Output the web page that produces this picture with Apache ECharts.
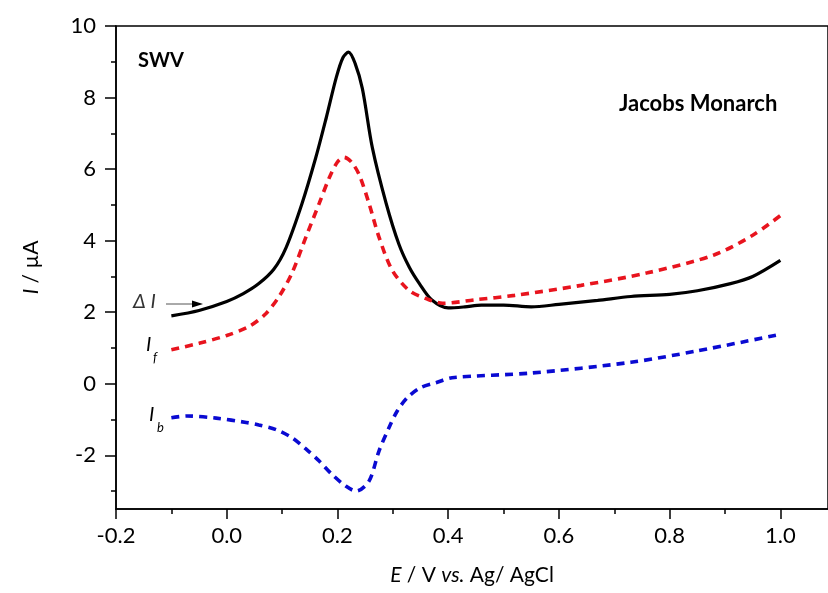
<!DOCTYPE html>
<html>
<head>
<meta charset="utf-8">
<script src="https://cdn.jsdelivr.net/npm/echarts@6/dist/echarts.min.js"></script>
<style>
html,body{margin:0;padding:0;background:#fff;}
#chart{width:828px;height:593px;}
</style>
</head>
<body>
<div id="chart"></div>
<script>
// ---- data (E / V, I / µA) ----
const deltaE = [-0.10,-0.05,0.00,0.03,0.058,0.085,0.107,0.136,0.161,0.18,0.198,0.21,0.22,0.232,0.245,0.263,0.288,0.311,0.33,0.348,0.37,0.40,0.43,0.46,0.50,0.55,0.60,0.67,0.73,0.80,0.85,0.91,0.95,1.00];
const deltaI = [1.90,2.05,2.30,2.52,2.80,3.20,3.80,5.04,6.33,7.45,8.57,9.12,9.27,8.95,8.25,6.60,5.04,3.90,3.25,2.80,2.35,2.12,2.15,2.20,2.20,2.15,2.22,2.33,2.44,2.50,2.60,2.80,3.00,3.45];

const fwdE = [-0.10,-0.05,0.00,0.04,0.07,0.095,0.118,0.143,0.167,0.185,0.20,0.212,0.225,0.239,0.257,0.275,0.299,0.33,0.36,0.39,0.45,0.52,0.64,0.76,0.88,0.95,1.00];
const fwdI = [0.95,1.13,1.35,1.60,1.95,2.45,3.10,4.10,5.04,5.75,6.20,6.33,6.20,5.85,5.04,4.10,3.17,2.60,2.38,2.25,2.35,2.47,2.75,3.10,3.60,4.15,4.70];

const bwdE = [-0.10,-0.072,-0.019,0.035,0.058,0.089,0.118,0.143,0.167,0.19,0.215,0.234,0.257,0.275,0.293,0.308,0.326,0.35,0.378,0.407,0.55,0.73,0.85,1.00];
const bwdI = [-0.95,-0.90,-0.96,-1.08,-1.15,-1.28,-1.51,-1.82,-2.16,-2.53,-2.86,-3.00,-2.72,-1.88,-1.23,-0.76,-0.39,-0.11,0.03,0.17,0.30,0.60,0.92,1.38];

const xMajor = [-0.2,0.0,0.2,0.4,0.6,0.8,1.0];
const xMinor = [-0.1,0.1,0.3,0.5,0.7,0.9];
const yMajor = [-2,0,2,4,6,8,10];
const yMinor = [-3,-1,1,3,5,7,9];

const zip = (a,b) => a.map((v,i)=>[v,b[i]]);
const FONT = 'Lato, "Open Sans", sans-serif';

const chart = echarts.init(document.getElementById('chart'), null, {renderer:'canvas'});
const axisLineStyle = {color:'#000', width:1.5};

chart.setOption({
  backgroundColor:'#fff',
  animation:false,
  grid:{left:116, top:26, width:712, height:483, show:true, borderColor:'#000', borderWidth:1.5, backgroundColor:'transparent'},
  xAxis:[{
    type:'value', min:-0.2, max:1.086,
    axisLine:{show:true, onZero:false, lineStyle:axisLineStyle},
    axisTick:{show:true, length:10, lineStyle:axisLineStyle, customValues:xMajor},
    axisLabel:{fontFamily:FONT, fontSize:22, color:'#000', margin:16, customValues:xMajor,
      formatter:v=>v.toFixed(1)},
    splitLine:{show:false},
    name:'{i|E} / V {i|vs.} Ag/ AgCl', nameLocation:'middle', nameGap:56,
    nameTextStyle:{fontFamily:FONT, fontSize:21, color:'#000', rich:{i:{fontFamily:FONT, fontSize:21, fontStyle:'italic', color:'#000'}}}
  },{
    type:'value', min:-0.2, max:1.086, position:'bottom',
    axisLine:{show:false, onZero:false},
    axisTick:{show:true, length:5, lineStyle:axisLineStyle, customValues:xMinor},
    axisLabel:{show:false}, splitLine:{show:false}
  }],
  yAxis:[{
    type:'value', min:-3.5, max:10,
    axisLine:{show:true, onZero:false, lineStyle:axisLineStyle},
    axisTick:{show:true, length:11, lineStyle:axisLineStyle, customValues:yMajor},
    axisLabel:{fontFamily:FONT, fontSize:22, color:'#000', margin:20, customValues:yMajor},
    splitLine:{show:false},
    name:'{i|I} / µA', nameLocation:'middle', nameGap:74,
    nameTextStyle:{fontFamily:FONT, fontSize:21, color:'#000', rich:{i:{fontFamily:FONT, fontSize:21, fontStyle:'italic', color:'#000'}}}
  },{
    type:'value', min:-3.5, max:10, position:'left',
    axisLine:{show:false, onZero:false},
    axisTick:{show:true, length:5, lineStyle:axisLineStyle, customValues:yMinor},
    axisLabel:{show:false}, splitLine:{show:false}
  }],
  series:[
    {name:'ΔI', type:'line', data:zip(deltaE,deltaI), smooth:0.3, showSymbol:false,
      lineStyle:{color:'#000', width:3.2}},
    {name:'If', type:'line', data:zip(fwdE,fwdI), smooth:0.3, showSymbol:false,
      lineStyle:{color:'#e8141e', width:3.6, type:[8,6]}},
    {name:'Ib', type:'line', data:zip(bwdE,bwdI), smooth:0.3, showSymbol:false,
      lineStyle:{color:'#0a0ad2', width:3.6, type:[8,6]}}
  ],
  graphic:[
    {type:'text', left:138, top:51, style:{text:'SWV', fontFamily:FONT, fontSize:20, fontWeight:'bold', fill:'#000'}},
    {type:'text', left:619, top:93, style:{text:'Jacobs Monarch', fontFamily:FONT, fontSize:22, fontWeight:'bold', fill:'#000'}},
    {type:'text', left:133, top:292, style:{text:'Δ I', fontFamily:FONT, fontSize:20, fontStyle:'italic', fill:'#333'}},
    {type:'line', shape:{x1:166, y1:304, x2:196, y2:304}, style:{stroke:'#555', lineWidth:1}},
    {type:'polygon', shape:{points:[[203,304],[192,300.5],[192,307.5]]}, style:{fill:'#000'}},
    {type:'text', left:146, top:335, style:{text:'I', fontFamily:FONT, fontSize:20, fontStyle:'italic', fill:'#000'}},
    {type:'text', left:153, top:351, style:{text:'f', fontFamily:FONT, fontSize:13, fontStyle:'italic', fill:'#000'}},
    {type:'text', left:149, top:405, style:{text:'I', fontFamily:FONT, fontSize:20, fontStyle:'italic', fill:'#000'}},
    {type:'text', left:157, top:421, style:{text:'b', fontFamily:FONT, fontSize:13, fontStyle:'italic', fill:'#000'}}
  ]
});
</script>
</body>
</html>
